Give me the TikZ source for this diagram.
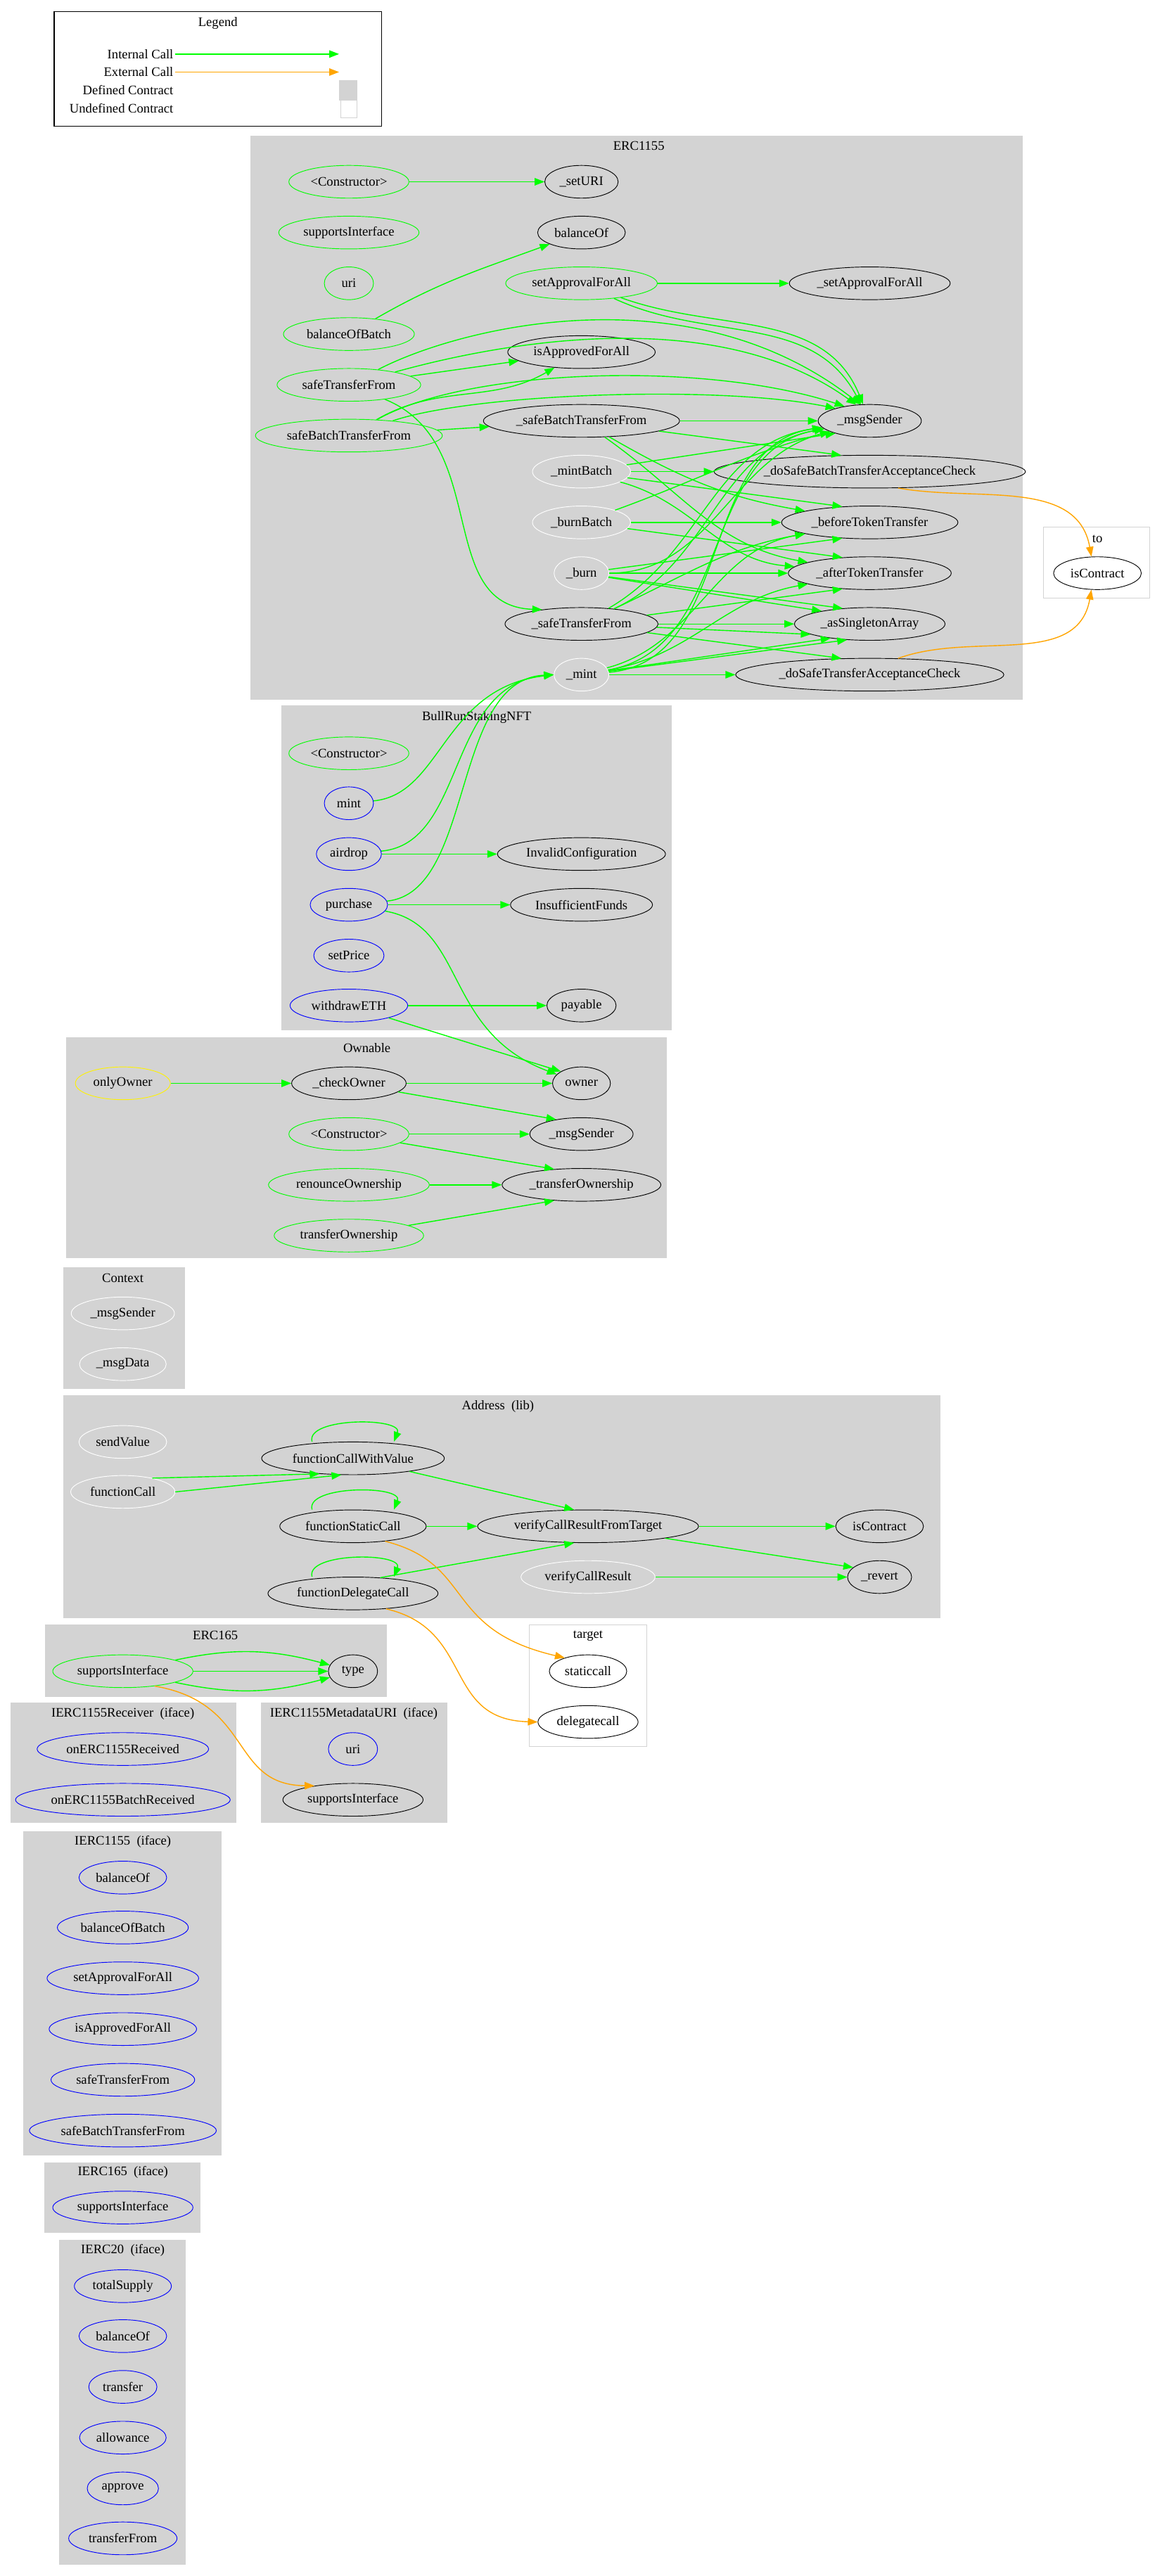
\documentclass[tikz,border=0pt]{standalone}
\usepackage{fontspec}
\setmainfont{Liberation Serif}
\usetikzlibrary{shapes.geometric,arrows.meta}
\definecolor{gvgreen}{HTML}{00FF00}
\definecolor{gvorange}{HTML}{FFA500}
\definecolor{gvgray}{HTML}{D3D3D3}
\tikzset{
  fn/.style={ellipse, draw, minimum height=20pt, minimum width=30pt, inner xsep=2.5pt, inner ysep=1pt, font=\fontsize{8}{9}\selectfont},
  pub/.style={fn, draw=gvgreen},
  ext/.style={fn, draw=blue},
  int/.style={fn, draw=black},
  priv/.style={fn, draw=white},
  modf/.style={fn, draw=yellow},
  icall/.style={draw=gvgreen, line width=0.6pt, -{Triangle[length=6pt,width=4.5pt]}},
  ecall/.style={draw=gvorange, line width=0.6pt, -{Triangle[length=6pt,width=4.5pt]}},
  defined/.style={fill=gvgray, draw=gvgray},
  undefined/.style={fill=white, draw=gvgray},
  ctitle/.style={font=\fontsize{8}{9}\selectfont, inner sep=0pt},
  lgtext/.style={font=\fontsize{8}{9}\selectfont, inner sep=1pt, anchor=east}
}
\begin{document}
\begin{tikzpicture}[x=1pt, y=-1pt]
  \useasboundingbox[fill=white] (0,0) rectangle (709,1573);

  % Legend
  \draw[black, line width=0.6pt] (33,7) rectangle (233,77);
  \node[ctitle] (lgTitle) at (133,14) {Legend};
  \node[lgtext] (lgInt) at (107,33) {Internal Call};
  \node[lgtext] (lgExt) at (107,44) {External Call};
  \node[lgtext] (lgDef) at (107,55) {Defined Contract};
  \node[lgtext] (lgUndef) at (107,66) {Undefined Contract};
  \coordinate (lgIntEnd) at (207,33);
  \coordinate (lgExtEnd) at (207,44);
  \draw[icall] (lgInt.east) -- (lgIntEnd);
  \draw[ecall] (lgExt.east) -- (lgExtEnd);
  \draw[defined] (207,49) rectangle (218,61);
  \draw[undefined] (208,61) rectangle (218,72);

  % Clusters
  \draw[defined] (153,83) rectangle (624,427);
  \draw[undefined] (637,322) rectangle (702,365);
  \draw[defined] (172,431) rectangle (410,629);
  \draw[defined] (40.5,633.5) rectangle (407,768);
  \draw[defined] (38.7,774) rectangle (112.7,848);
  \draw[defined] (38.7,852) rectangle (574,988);
  \draw[defined] (27.6,992) rectangle (236,1036);
  \draw[undefined] (323,992) rectangle (395,1066.5);
  \draw[defined] (6.6,1040) rectangle (144,1113);
  \draw[defined] (159.5,1040) rectangle (273,1113);
  \draw[defined] (14.4,1118.4) rectangle (135,1316);
  \draw[defined] (27.4,1320.6) rectangle (122,1363.3);
  \draw[defined] (36.4,1368) rectangle (113,1566);

  \node[ctitle] (tErc) at (390,89) {ERC1155};
  \node[ctitle] (tTo) at (670,329) {to};
  \node[ctitle] (tBull) at (291,438) {BullRunStakingNFT};
  \node[ctitle] (tOwn) at (224,640) {Ownable};
  \node[ctitle] (tCtx) at (75,780.5) {Context};
  \node[ctitle] (tAddr) at (304,859) {Address\ \ (lib)};
  \node[ctitle] (t165) at (131.5,998.5) {ERC165};
  \node[ctitle] (tTarget) at (359,999) {target};
  \node[ctitle] (tRecv) at (75,1046.5) {IERC1155Receiver\ \ (iface)};
  \node[ctitle] (tMeta) at (216,1046.5) {IERC1155MetadataURI\ \ (iface)};
  \node[ctitle] (tI1155) at (75,1124.5) {IERC1155\ \ (iface)};
  \node[ctitle] (tI165) at (75,1326.5) {IERC165\ \ (iface)};
  \node[ctitle] (tI20) at (75,1374) {IERC20\ \ (iface)};

  % ERC1155
  \node[pub] (eCtor) at (213,111) {<Constructor>};
  \node[int] (eSetURI) at (355,111) {\_setURI};
  \node[pub] (eSupp) at (213,142) {supportsInterface};
  \node[int] (eBal) at (355,142) {balanceOf};
  \node[pub] (eUri) at (213,173) {uri};
  \node[pub] (eSetApp) at (355,173) {setApprovalForAll};
  \node[int] (eUSetApp) at (531,173) {\_setApprovalForAll};
  \node[pub] (eBalBatch) at (213,204) {balanceOfBatch};
  \node[int] (eIsApp) at (355,215) {isApprovedForAll};
  \node[pub] (eSTF) at (213,235) {safeTransferFrom};
  \node[pub] (eSBTF) at (213,266) {safeBatchTransferFrom};
  \node[int] (eUSBTF) at (355,257) {\_safeBatchTransferFrom};
  \node[int] (eMsgS) at (531,257) {\_msgSender};
  \node[priv] (eMintB) at (355,288) {\_mintBatch};
  \node[int] (eDoBatch) at (531,288) {\_doSafeBatchTransferAcceptanceCheck};
  \node[priv] (eBurnB) at (355,319) {\_burnBatch};
  \node[int] (eBefore) at (531,319) {\_beforeTokenTransfer};
  \node[priv] (eBurn) at (355,350) {\_burn};
  \node[int] (eAfter) at (531,350) {\_afterTokenTransfer};
  \node[int] (eUSTF) at (355,381) {\_safeTransferFrom};
  \node[int] (eSingle) at (531,381) {\_asSingletonArray};
  \node[priv] (eMint) at (355,412) {\_mint};
  \node[int] (eDoSingle) at (531,412) {\_doSafeTransferAcceptanceCheck};
  \node[int] (toIsC) at (670,350) {isContract};

  \draw[icall] (eCtor) -- (eSetURI);
  \draw[icall] (eBalBatch) to[out=30,in=200] (eBal);
  \draw[icall] (eSetApp) -- (eUSetApp);
  \draw[icall] (eSetApp) to[out=-25,in=118] (eMsgS);
  \draw[icall] (eSetApp) to[out=-20,in=112] (eMsgS);
  \draw[icall] (eSTF) .. controls (280,200) and (420,165) .. (eMsgS.120);
  \draw[icall] (eSTF) .. controls (285,215) and (430,180) .. (eMsgS.130);
  \draw[icall] (eSTF) -- (eIsApp);
  \draw[icall] (eSBTF) to[out=30,in=210] (eIsApp);
  \draw[icall] (eSBTF) .. controls (285,225) and (430,220) .. (eMsgS.150);
  \draw[icall] (eSBTF) .. controls (290,240) and (440,235) .. (eMsgS.160);
  \draw[icall] (eSBTF) -- (eUSBTF);
  \draw[icall] (eSTF) .. controls (300,270) and (265,370) .. (eUSTF.160);
  \draw[icall] (eUSBTF) -- (eMsgS);
  \draw[icall] (eUSBTF) -- (eDoBatch.150);
  \draw[icall] (eUSBTF) to[out=-30,in=170] (eBefore);
  \draw[icall] (eUSBTF) to[out=-35,in=170] (eAfter);
  \draw[icall] (eMintB) -- (eMsgS.200);
  \draw[icall] (eMintB) -- (eDoBatch);
  \draw[icall] (eMintB) -- (eBefore.150);
  \draw[icall] (eMintB) to[out=-15,in=175] (eAfter);
  \draw[icall] (eBurnB) to[out=20,in=195] (eMsgS);
  \draw[icall] (eBurnB) -- (eBefore);
  \draw[icall] (eBurnB) -- (eAfter.150);
  \draw[icall] (eBurn) to[out=0,in=195] (eMsgS);
  \draw[icall] (eBurn) -- (eBefore.210);
  \draw[icall] (eBurn) -- (eAfter);
  \draw[icall] (eBurn) -- (eSingle.150);
  \draw[icall] (eBurn) -- (eSingle.165);
  \draw[icall] (eUSTF) to[out=25,in=190] (eMsgS);
  \draw[icall] (eUSTF) to[out=30,in=188] (eMsgS);
  \draw[icall] (eUSTF) to[out=25,in=190] (eBefore);
  \draw[icall] (eUSTF) -- (eAfter.210);
  \draw[icall] (eUSTF) -- (eSingle);
  \draw[icall] (eUSTF) -- (eSingle.190);
  \draw[icall] (eUSTF) -- (eDoSingle.150);
  \draw[icall] (eMint) to[out=10,in=190] (eMsgS);
  \draw[icall] (eMint) to[out=5,in=188] (eMsgS);
  \draw[icall] (eMint) to[out=15,in=190] (eBefore);
  \draw[icall] (eMint) to[out=10,in=190] (eAfter);
  \draw[icall] (eMint) -- (eSingle.200);
  \draw[icall] (eMint) -- (eSingle.215);
  \draw[icall] (eMint) -- (eDoSingle);
  \draw[ecall] (eDoBatch.-30) to[out=-10,in=100] (toIsC.110);
  \draw[ecall] (eDoSingle.30) to[out=20,in=-100] (toIsC.250);

  % BullRunStakingNFT
  \node[pub] (bCtor) at (213,460) {<Constructor>};
  \node[ext] (bMint) at (213,490.5) {mint};
  \node[ext] (bAirdrop) at (213,521.5) {airdrop};
  \node[ext] (bPurchase) at (213,552.5) {purchase};
  \node[ext] (bSetPrice) at (213,583.5) {setPrice};
  \node[ext] (bWithdraw) at (213,614) {withdrawETH};
  \node[int] (bInvalid) at (355,521.5) {InvalidConfiguration};
  \node[int] (bFunds) at (355,552.5) {InsufficientFunds};
  \node[int] (bPayable) at (355,614) {payable};

  \draw[icall] (bMint) .. controls (270,485) and (270,420) .. (eMint.west);
  \draw[icall] (bAirdrop) .. controls (285,515) and (272,418) .. (eMint.west);
  \draw[icall] (bPurchase) .. controls (290,545) and (275,415) .. (eMint.west);
  \draw[icall] (bAirdrop) -- (bInvalid);
  \draw[icall] (bPurchase) -- (bFunds);
  \draw[icall] (bWithdraw) -- (bPayable);

  % Ownable
  \node[modf] (oOnly) at (75,661.5) {onlyOwner};
  \node[int] (oCheck) at (213,661.5) {\_checkOwner};
  \node[int] (oOwner) at (355,661.5) {owner};
  \node[pub] (oCtor) at (213,692.5) {<Constructor>};
  \node[int] (oMsgS) at (355,692.5) {\_msgSender};
  \node[pub] (oRenounce) at (213,723.5) {renounceOwnership};
  \node[int] (oUTrans) at (355,723.5) {\_transferOwnership};
  \node[pub] (oTrans) at (213,754.5) {transferOwnership};

  \draw[icall] (bPurchase) .. controls (285,565) and (270,630) .. (oOwner.160);
  \draw[icall] (bWithdraw) -- (oOwner.150);
  \draw[icall] (oOnly) -- (oCheck);
  \draw[icall] (oCheck) -- (oOwner);
  \draw[icall] (oCheck) -- (oMsgS.150);
  \draw[icall] (oCtor) -- (oMsgS);
  \draw[icall] (oCtor) -- (oUTrans.150);
  \draw[icall] (oRenounce) -- (oUTrans);
  \draw[icall] (oTrans) -- (oUTrans.210);

  % Context
  \node[priv] (cMsgS) at (75,802) {\_msgSender};
  \node[priv] (cMsgD) at (75,833) {\_msgData};

  % Address
  \node[priv] (aSend) at (75,880.5) {sendValue};
  \node[priv] (aCall) at (75,911) {functionCall};
  \node[int] (aCWV) at (215.5,890.5) {functionCallWithValue};
  \node[int] (aStatic) at (215.5,932) {functionStaticCall};
  \node[int] (aDeleg) at (215.5,973) {functionDelegateCall};
  \node[int] (aVerifyT) at (359,932) {verifyCallResultFromTarget};
  \node[priv] (aVerify) at (359,963) {verifyCallResult};
  \node[int] (aIsC) at (537,932) {isContract};
  \node[int] (aRevert) at (537,963) {\_revert};
  \node[int] (tStatic) at (359,1020.5) {staticcall};
  \node[int] (tDeleg) at (359,1051.5) {delegatecall};

  \draw[icall] (aCall.25) -- (aCWV.205);
  \draw[icall] (aCall.east) -- (aCWV.235);
  \draw[icall] ([xshift=-25pt]aCWV.north) .. controls +(-4,-15) and +(6,-15) .. ([xshift=25pt]aCWV.north);
  \draw[icall] ([xshift=-25pt]aStatic.north) .. controls +(-4,-15) and +(6,-15) .. ([xshift=25pt]aStatic.north);
  \draw[icall] ([xshift=-25pt]aDeleg.north) .. controls +(-4,-15) and +(6,-15) .. ([xshift=25pt]aDeleg.north);
  \draw[icall] (aCWV) -- (aVerifyT.130);
  \draw[icall] (aStatic) -- (aVerifyT);
  \draw[icall] (aDeleg.30) -- (aVerifyT.230);
  \draw[icall] (aVerifyT) -- (aIsC);
  \draw[icall] (aVerifyT) -- (aRevert.160);
  \draw[icall] (aVerify) -- (aRevert);
  \draw[ecall] (aStatic.-25) .. controls (290,955) and (270,995) .. (tStatic.150);
  \draw[ecall] (aDeleg.-25) .. controls (290,995) and (270,1050) .. (tDeleg.west);

  % ERC165
  \node[pub] (s165) at (75,1020.5) {supportsInterface};
  \node[int] (sType) at (215.5,1020.5) {type};
  \draw[icall] (s165) to[out=12,in=165] (sType);
  \draw[icall] (s165) -- (sType);
  \draw[icall] (s165) to[out=-12,in=195] (sType);

  % interfaces
  \node[ext] (rRecv) at (75,1068) {onERC1155Received};
  \node[ext] (rBatch) at (75,1099) {onERC1155BatchReceived};
  \node[ext] (mUri) at (215.5,1068) {uri};
  \node[int] (mSupp) at (215.5,1099) {supportsInterface};
  \draw[ecall] (s165.-25) .. controls (155,1040) and (140,1090) .. (mSupp.160);

  \node[ext] (iBal) at (75,1146.5) {balanceOf};
  \node[ext] (iBalB) at (75,1177) {balanceOfBatch};
  \node[ext] (iSetApp) at (75,1208) {setApprovalForAll};
  \node[ext] (iIsApp) at (75,1239) {isApprovedForAll};
  \node[ext] (iSTF) at (75,1270) {safeTransferFrom};
  \node[ext] (iSBTF) at (75,1301) {safeBatchTransferFrom};
  \node[ext] (kSupp) at (75,1348) {supportsInterface};
  \node[ext] (zTotal) at (75,1396) {totalSupply};
  \node[ext] (zBal) at (75,1426.5) {balanceOf};
  \node[ext] (zTrans) at (75,1457.5) {transfer};
  \node[ext] (zAllow) at (75,1488.5) {allowance};
  \node[ext] (zApprove) at (75,1519.5) {approve};
  \node[ext] (zTransF) at (75,1550) {transferFrom};
\end{tikzpicture}
\end{document}
